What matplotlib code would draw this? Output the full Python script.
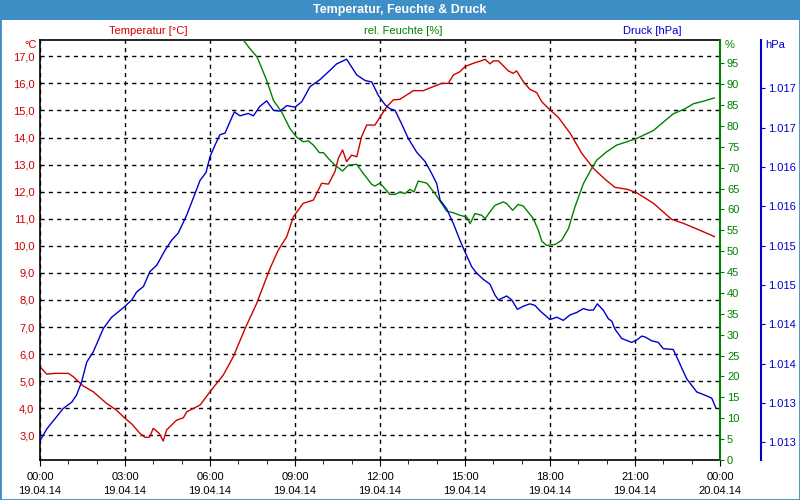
import matplotlib
matplotlib.use('Agg')
import matplotlib.pyplot as plt
from matplotlib.patches import Rectangle
from matplotlib.ticker import MultipleLocator

# temperature [°C]
temp_h = [0.00, 0.24, 0.53, 1.00, 1.17, 1.53, 1.88, 2.35, 2.70, 3.00, 3.24, 3.53, 3.70, 3.86,
          4.00, 4.21, 4.35, 4.47, 4.82, 5.06, 5.18, 5.65, 6.00, 6.47, 6.82, 7.24, 7.65, 8.12,
          8.41, 8.71, 8.94, 9.29, 9.65, 9.94, 10.18, 10.41, 10.53, 10.68, 10.82, 11.00, 11.18,
          11.35, 11.53, 11.82, 12.24, 12.47, 12.70, 13.18, 13.53, 13.88, 14.18, 14.41, 14.59,
          14.82, 15.00, 15.29, 15.59, 15.71, 15.88, 16.00, 16.18, 16.53, 16.70, 16.82, 17.06,
          17.29, 17.53, 17.71, 18.00, 18.29, 18.71, 19.12, 19.53, 19.94, 20.29, 20.71, 21.06,
          21.65, 22.29, 22.71, 23.41, 23.80]
temp = [5.53, 5.26, 5.29, 5.29, 5.17, 4.82, 4.61, 4.18, 3.93, 3.63, 3.42, 3.07, 2.93, 2.93,
        3.26, 3.07, 2.79, 3.20, 3.56, 3.65, 3.87, 4.12, 4.61, 5.23, 5.90, 6.95, 7.88, 9.17,
        9.84, 10.34, 11.07, 11.57, 11.69, 12.31, 12.28, 12.74, 13.23, 13.54, 13.11, 13.35, 13.29,
        14.03, 14.46, 14.46, 15.14, 15.39, 15.41, 15.73, 15.73, 15.88, 16.00, 16.00, 16.31,
        16.43, 16.62, 16.74, 16.84, 16.89, 16.72, 16.83, 16.83, 16.46, 16.37, 16.46, 16.06,
        15.78, 15.66, 15.32, 15.02, 14.75, 14.16, 13.42, 12.86, 12.46, 12.16, 12.09, 11.96,
        11.57, 10.98, 10.83, 10.52, 10.34]

# relative humidity [%]
hum_h = [7.18, 7.41, 7.65, 7.76, 8.00, 8.24, 8.53, 8.82, 9.06, 9.29, 9.47, 9.65, 9.86, 10.00,
         10.18, 10.41, 10.68, 10.88, 11.18, 11.41, 11.71, 11.82, 12.00, 12.35, 12.53, 12.71,
         12.88, 13.06, 13.20, 13.35, 13.65, 13.94, 14.18, 14.35, 14.59, 14.82, 15.06, 15.18,
         15.35, 15.59, 15.71, 15.88, 16.06, 16.35, 16.47, 16.68, 16.88, 17.06, 17.41, 17.59,
         17.71, 17.88, 18.18, 18.41, 18.65, 18.88, 19.18, 19.47, 19.65, 20.00, 20.35, 20.71,
         21.06, 21.65, 22.00, 22.35, 22.76, 23.06, 23.41, 23.80]
hum = [100.5, 98.5, 96.6, 94.9, 90.9, 86.1, 83.3, 79.4, 77.3, 76.2, 76.4, 75.4, 73.6, 73.6,
       72.2, 70.6, 69.2, 70.6, 70.8, 68.6, 66.0, 65.6, 66.3, 63.6, 63.6, 64.2,
       63.8, 64.8, 64.2, 66.8, 66.3, 63.8, 61.4, 59.6, 59.2, 58.6, 58.2, 56.6,
       59.0, 58.6, 57.8, 59.4, 61.0, 61.8, 61.4, 59.8, 61.2, 60.8, 57.8, 55.0,
       52.4, 51.4, 51.6, 52.6, 55.4, 60.6, 66.2, 69.8, 71.8, 73.8, 75.4, 76.2,
       77.0, 78.9, 80.9, 82.9, 84.1, 85.3, 85.9, 86.7]

# pressure [hPa]
pres_h = [0.00, 0.24, 0.53, 0.82, 1.12, 1.29, 1.47, 1.65, 1.88, 2.24, 2.53, 2.94, 3.24, 3.41,
          3.65, 3.88, 4.12, 4.41, 4.65, 4.88, 5.18, 5.47, 5.65, 5.86, 6.00, 6.18, 6.35, 6.53,
          6.71, 6.86, 7.06, 7.35, 7.53, 7.76, 8.00, 8.24, 8.47, 8.71, 9.00, 9.24, 9.53, 9.88,
          10.24, 10.47, 10.82, 11.00, 11.18, 11.47, 11.71, 11.94, 12.18, 12.35, 12.53, 12.76,
          13.00, 13.29, 13.59, 13.82, 14.00, 14.12, 14.35, 14.59, 14.82, 15.00, 15.24, 15.41,
          15.65, 15.88, 16.06, 16.18, 16.47, 16.65, 16.85, 17.06, 17.29, 17.47, 17.65, 18.00,
          18.24, 18.47, 18.71, 18.94, 19.18, 19.35, 19.53, 19.67, 19.88, 20.06, 20.18, 20.29,
          20.53, 20.88, 21.06, 21.24, 21.35, 21.59, 21.82, 22.00, 22.35, 22.53, 22.82, 23.18,
          23.53, 23.71, 23.85]
pres = [1012.52, 1012.67, 1012.80, 1012.93, 1013.01, 1013.10, 1013.27, 1013.52, 1013.65, 1013.95,
        1014.09, 1014.21, 1014.31, 1014.41, 1014.48, 1014.67, 1014.75, 1014.94, 1015.07, 1015.16,
        1015.39, 1015.66, 1015.83, 1015.93, 1016.13, 1016.28, 1016.41, 1016.43, 1016.58, 1016.70,
        1016.65, 1016.68, 1016.65, 1016.77, 1016.84, 1016.72, 1016.71, 1016.78, 1016.76, 1016.83,
        1017.02, 1017.11, 1017.23, 1017.31, 1017.37, 1017.27, 1017.17, 1017.10, 1017.08, 1016.91,
        1016.79, 1016.74, 1016.72, 1016.55, 1016.36, 1016.19, 1016.07, 1015.92, 1015.79, 1015.58,
        1015.47, 1015.28, 1015.07, 1014.92, 1014.73, 1014.65, 1014.57, 1014.51, 1014.37, 1014.31,
        1014.36, 1014.31, 1014.19, 1014.23, 1014.26, 1014.24, 1014.17, 1014.06, 1014.09, 1014.05,
        1014.12, 1014.15, 1014.20, 1014.18, 1014.18, 1014.26, 1014.18, 1014.07, 1014.04, 1013.94,
        1013.82, 1013.77, 1013.80, 1013.85, 1013.84, 1013.79, 1013.77, 1013.69, 1013.68, 1013.54,
        1013.31, 1013.14, 1013.09, 1013.06, 1012.94]

x_ticks = [0, 3, 6, 9, 12, 15, 18, 21, 24]
x_labels = ['00:00\n19.04.14', '03:00\n19.04.14', '06:00\n19.04.14', '09:00\n19.04.14',
            '12:00\n19.04.14', '15:00\n19.04.14', '18:00\n19.04.14', '21:00\n19.04.14',
            '00:00\n20.04.14']
temp_ticks = list(range(3, 18))
hum_ticks = list(range(0, 100, 5))
pres_ticks = [1012.5, 1013.0, 1013.5, 1014.0, 1014.5, 1015.0, 1015.5, 1016.0, 1016.5, 1017.0]
pres_labels = ['1.013', '1.013', '1.014', '1.014', '1.015', '1.015', '1.016', '1.016', '1.017', '1.017']

RED = '#cc0000'
GREEN = '#008000'
BLUE = '#0000cc'
BAR = '#3d8fc6'
FS = 8

plt.rcParams['font.family'] = ['Liberation Sans', 'DejaVu Sans']

fig = plt.figure(figsize=(8, 5), dpi=100)
fig.patches.append(Rectangle((0, 0), 1, 1, transform=fig.transFigure, fill=False,
                             edgecolor=BAR, linewidth=2))
fig.patches.append(Rectangle((0, 1 - 20 / 500), 1, 20 / 500, transform=fig.transFigure,
                             facecolor=BAR, edgecolor='none'))
fig.text(0.5, 1 - 10 / 500, 'Temperatur, Feuchte & Druck', color='white', fontsize=9,
         fontweight='bold', ha='center', va='center')

ax = fig.add_axes([40 / 800, 40 / 500, 680 / 800, 419.7 / 500])
ax.plot(temp_h, temp, color=RED, lw=1)
ax.set_xlim(0, 24)
ax.set_ylim(2.09, 17.59)
ax.set_yticks(temp_ticks)
ax.set_yticklabels([f'{t},0' for t in temp_ticks])
ax.tick_params(axis='y', length=0, pad=4, labelsize=FS, labelcolor=RED)
ax.set_xticks(x_ticks)
ax.set_xticklabels(x_labels, linespacing=1.45)
ax.xaxis.set_minor_locator(MultipleLocator(1))
ax.tick_params(axis='x', which='major', length=4, pad=5, labelsize=FS)
ax.tick_params(axis='x', which='minor', length=3)
ax.grid(True, color='black', linestyle=(0, (3, 3)), linewidth=1)
ax.spines['right'].set_visible(False)
for s in ['left', 'bottom', 'top']:
    ax.spines[s].set_linewidth(1.2)

ax2 = ax.twinx()
ax2.plot(hum_h, hum, color=GREEN, lw=1)
ax2.set_ylim(0, 100.5)
ax2.set_yticks(hum_ticks)
ax2.tick_params(axis='y', length=3, pad=2, labelsize=FS, colors=GREEN)
ax2.spines['right'].set_color(GREEN)
ax2.spines['right'].set_linewidth(1.5)
for s in ['left', 'bottom', 'top']:
    ax2.spines[s].set_visible(False)

ax3 = ax.twinx()
ax3.plot(pres_h, pres, color=BLUE, lw=1)
ax3.set_ylim(1012.275, 1017.61)
ax3.set_yticks(pres_ticks)
ax3.set_yticklabels(pres_labels)
ax3.spines['right'].set_position(('axes', 720.7 / 680))
ax3.spines['right'].set_color(BLUE)
ax3.spines['right'].set_linewidth(1.5)
ax3.tick_params(axis='y', length=3, pad=2, labelsize=FS, colors=BLUE)
for s in ['left', 'bottom', 'top']:
    ax3.spines[s].set_visible(False)

fig.text(148 / 800, 1 - 31 / 500, 'Temperatur [°C]', color=RED, fontsize=FS, ha='center', va='center')
fig.text(403 / 800, 1 - 31 / 500, 'rel. Feuchte [%]', color=GREEN, fontsize=FS, ha='center', va='center')
fig.text(652 / 800, 1 - 31 / 500, 'Druck [hPa]', color=BLUE, fontsize=FS, ha='center', va='center')
fig.text(37 / 800, 1 - 45 / 500, '°C', color=RED, fontsize=FS, ha='right', va='center')
fig.text(725 / 800, 1 - 45 / 500, '%', color=GREEN, fontsize=FS, ha='left', va='center')
fig.text(765 / 800, 1 - 45 / 500, 'hPa', color=BLUE, fontsize=FS, ha='left', va='center')

fig.savefig('out.png', dpi=100)
